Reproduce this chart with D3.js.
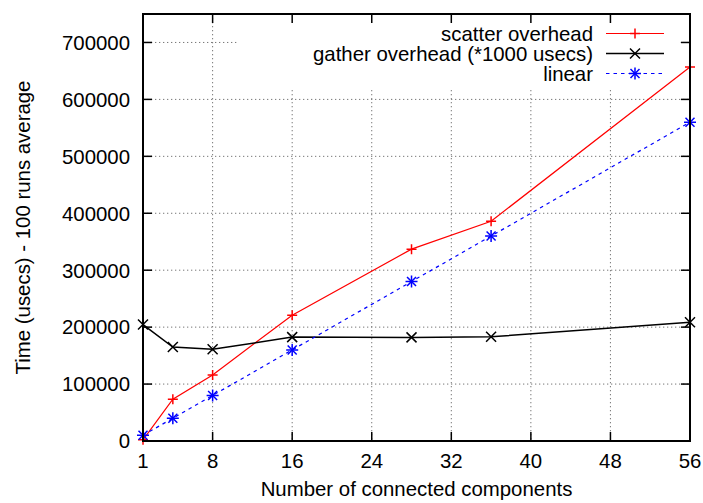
<!DOCTYPE html>
<html><head><meta charset="utf-8">
<script src="https://cdn.jsdelivr.net/npm/d3@7"></script>
<style>body{margin:0;background:#fff}svg{display:block}text{font-family:"Liberation Sans",Arial,sans-serif;}</style>
</head><body>
<svg id="c" width="703" height="503"></svg>
<script>
const components = [1, 4, 8, 16, 28, 36, 56];
const scatterOverhead = [2000, 73500, 116000, 221000, 337000, 386000, 657000];
const gatherOverhead = [204500, 165000, 161000, 182500, 182000, 183000, 208500];
const linearRef = [10000, 40000, 80000, 160000, 280000, 360000, 560000];
const xTicks = [1, 8, 16, 24, 32, 40, 48, 56];
const yTicks = [0, 100000, 200000, 300000, 400000, 500000, 600000, 700000];
const seriesNames = ["scatter overhead", "gather overhead (*1000 usecs)", "linear"];

const FS = 20.4;
const svg = d3.select("#c");
const L = 143, R = 690, T = 14, B = 441;
const x = d3.scaleLinear().domain([1, 56]).range([L, R]);
const y = d3.scaleLinear().domain([0, 750000]).range([B, T]);

// grid
const grid = svg.append("g");
grid.selectAll(".gy").data(yTicks.filter(d => d > 0)).enter().append("line")
  .attr("x1", L).attr("x2", R).attr("y1", d => y(d)).attr("y2", d => y(d))
  .attr("stroke", "#777").attr("stroke-width", 1).attr("stroke-dasharray", "1.3,2.7");
grid.selectAll(".gx").data(xTicks.filter(d => d > 1 && d < 56)).enter().append("line")
  .attr("y1", T).attr("y2", B).attr("x1", d => x(d)).attr("x2", d => x(d))
  .attr("stroke", "#777").attr("stroke-width", 1).attr("stroke-dasharray", "1.3,2.7");

// legend background mask
svg.append("rect").attr("x", 237).attr("y", T + 1).attr("width", 443).attr("height", 73).attr("fill", "#fff");

// ticks (inward, mirrored)
const tk = svg.append("g").attr("stroke", "#000").attr("stroke-width", 1.5);
yTicks.forEach(v => {
  tk.append("line").attr("x1", L).attr("x2", L + 9).attr("y1", y(v)).attr("y2", y(v));
  tk.append("line").attr("x1", R).attr("x2", R - 9).attr("y1", y(v)).attr("y2", y(v));
});
xTicks.forEach(v => {
  tk.append("line").attr("y1", B).attr("y2", B - 9).attr("x1", x(v)).attr("x2", x(v));
  tk.append("line").attr("y1", T).attr("y2", T + 9).attr("x1", x(v)).attr("x2", x(v));
});

// tick labels
svg.selectAll(".yl").data(yTicks).enter().append("text")
  .attr("x", 130).attr("y", d => y(d)).attr("dy", "0.36em").attr("text-anchor", "end")
  .attr("font-size", FS).attr("fill", "#000").text(d => d);
svg.selectAll(".xl").data(xTicks).enter().append("text")
  .attr("x", d => x(d)).attr("y", 468).attr("text-anchor", "middle")
  .attr("font-size", FS).attr("fill", "#000").text(d => d);

// axis titles
svg.append("text").attr("x", x(28.5)).attr("y", 496).attr("text-anchor", "middle")
  .attr("font-size", FS).text("Number of connected components");
svg.append("text").attr("transform", `translate(30,${(T + B) / 2}) rotate(-90)`)
  .attr("text-anchor", "middle").attr("font-size", FS).text("Time (usecs) - 100 runs average");

// markers
function plus(g, cx, cy, s, c) {
  g.append("path").attr("d", `M${cx - s},${cy}H${cx + s}M${cx},${cy - s}V${cy + s}`).attr("stroke", c).attr("stroke-width", 1.5).attr("fill", "none");
}
function cross(g, cx, cy, s, c) {
  g.append("path").attr("d", `M${cx - s},${cy - s}L${cx + s},${cy + s}M${cx - s},${cy + s}L${cx + s},${cy - s}`).attr("stroke", c).attr("stroke-width", 1.5).attr("fill", "none");
}
function star(g, cx, cy, s, c) {
  plus(g, cx, cy, s, c); cross(g, cx, cy, s * 0.75, c);
}

const series = [
  {vals: scatterOverhead, color: "#ff0000", w: 1.2, dash: null, mk: plus, s: 5},
  {vals: gatherOverhead, color: "#000000", w: 1.5, dash: null, mk: cross, s: 5},
  {vals: linearRef, color: "#0000ff", w: 1.2, dash: "3.5,4", mk: star, s: 6}
];
const line = d3.line().x(d => x(d[0])).y(d => y(d[1]));
const plot = svg.append("g");
series.forEach((s, i) => {
  const pts = components.map((c, j) => [c, s.vals[j]]);
  plot.append("path").attr("d", line(pts)).attr("fill", "none").attr("stroke", s.color)
    .attr("stroke-width", s.w).attr("stroke-dasharray", s.dash);
  pts.forEach(p => s.mk(plot, x(p[0]), y(p[1]), s.s, s.color));
  // legend
  const ly = 33.5 + i * 20;
  svg.append("text").attr("x", 593).attr("y", ly).attr("dy", "0.36em").attr("text-anchor", "end")
    .attr("font-size", FS).text(seriesNames[i]);
  svg.append("line").attr("x1", 606).attr("x2", 664).attr("y1", ly).attr("y2", ly)
    .attr("stroke", s.color).attr("stroke-width", s.w).attr("stroke-dasharray", s.dash);
  s.mk(svg, 635, ly, s.s, s.color);
});

// frame
svg.append("rect").attr("x", L).attr("y", T).attr("width", R - L).attr("height", B - T)
  .attr("fill", "none").attr("stroke", "#000").attr("stroke-width", 2);
</script>
</body></html>
